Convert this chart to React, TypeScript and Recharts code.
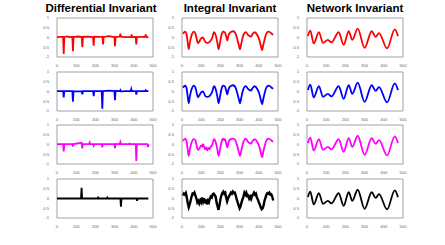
import { LineChart, Line, XAxis, YAxis, ReferenceArea } from 'recharts';

type Pt = [number, number];

const TITLES = ['Differential Invariant', 'Integral Invariant', 'Network Invariant'];
const X_TICKS = [0, 100, 200, 300, 400, 500];
const Y_TICKS = [-1, -0.5, 0, 0.5, 1];
const ROW_COLORS = ['#ff0000', '#0000ff', '#ff00ff', '#000000'];

// differential invariant: flat with spikes
const DIFF_RED: Pt[] = [
  [0, 0.02], [20, 0.03], [32, 0.03], [35, -0.85], [38, 0.03], [55, 0.06], [62, 0.02], [80, 0.03],
  [83, -0.7], [86, 0.02], [110, 0.05], [129, 0.02], [132, -0.5], [135, 0.03], [160, 0.04], [188, 0.02],
  [191, -0.42], [194, 0.04], [215, 0.03], [237, 0.03], [240, -0.35], [243, 0.03], [270, 0.07], [299, 0.02],
  [302, -0.45], [305, 0.02], [327, 0.05], [330, 0.2], [333, 0.04], [360, 0.02], [386, 0.03], [389, 0.15],
  [392, 0.02], [410, 0.03], [413, -0.35], [416, 0.02], [440, 0.03], [459, 0.04], [462, 0.15], [465, 0.03], [476, 0.01],
];
const DIFF_BLUE: Pt[] = [
  [0, 0.02], [32, 0.02], [35, -0.3], [38, 0.02], [80, 0.02], [83, -0.52], [86, 0.02], [129, 0.01],
  [132, -0.15], [135, 0.02], [188, 0.02], [191, -0.24], [194, 0.02], [233, 0.02], [236, -0.88], [239, 0.02],
  [270, 0.04], [299, 0.02], [302, -0.45], [305, 0.03], [327, 0.02], [330, 0.07], [333, 0.01], [360, 0.02],
  [384, 0.02], [387, 0.13], [390, 0.02], [410, 0.02], [413, -0.16], [416, 0.02], [459, 0.02], [462, 0.06],
  [465, 0.02], [476, 0.02],
];
const DIFF_MAG: Pt[] = [
  [0, 0.02], [32, 0.02], [35, -0.35], [38, 0.02], [80, 0.02], [83, -0.1], [86, 0.02], [128, 0.09],
  [132, -0.2], [135, 0.02], [167, 0.02], [170, 0.1], [173, 0.02], [188, 0.02], [191, -0.06], [194, 0.02],
  [233, 0.02], [236, -0.14], [239, 0.02], [299, 0.02], [302, -0.2], [305, 0.03], [327, 0.02], [330, 0.12],
  [333, 0.02], [375, 0.02], [378, 0.05], [381, 0.02], [410, 0.02], [413, -0.85], [416, 0.02], [471, 0.02],
  [474, -0.13], [477, 0.02],
];
const DIFF_BLACK: Pt[] = [
  [0, 0], [125, 0], [128, 0.55], [131, 0], [211, 0], [214, 0.05], [217, 0], [259, 0], [262, 0.05],
  [265, 0], [330, 0], [333, -0.42], [336, 0], [414, 0], [417, -0.12], [420, 0], [476, 0],
];

// integral invariant
const INT_BASE: Pt[] = [
  [5, 0.2], [17, 0.3], [24, 0.15], [29, -0.2], [35, -0.6], [41, -0.25], [48, 0.05], [62, 0.3],
  [70, 0.2], [77, -0.1], [83, -0.3], [90, -0.2], [100, -0.05], [109, 0.0], [121, -0.22], [132, -0.28],
  [144, -0.22], [156, -0.05], [167, 0.27], [176, 0.1], [184, -0.25], [191, -0.6], [198, -0.25], [205, 0.1],
  [213, 0.3], [224, 0.25], [230, 0.05], [236, -0.15], [242, 0.1], [250, 0.25], [266, 0.32], [278, 0.22],
  [287, -0.05], [295, -0.35], [302, -0.6], [309, -0.3], [316, 0.0], [323, 0.2], [332, 0.28], [344, 0.13],
  [358, 0.04], [368, 0.18], [378, 0.27], [392, 0.13], [404, -0.15], [411, -0.45], [417, -0.65], [423, -0.4],
  [430, -0.1], [439, 0.2], [451, 0.3], [465, 0.22], [474, 0.13],
];
const INT_MAG: Pt[] = [
  [5, 0.18], [17, 0.3], [24, 0.15], [29, -0.2], [35, -0.58], [41, -0.25], [48, 0.05], [62, 0.28],
  [70, 0.22], [77, -0.1], [83, -0.28], [90, -0.22], [100, -0.05], [106, -0.12], [109, 0.02], [115, -0.1],
  [121, -0.25], [127, -0.15], [132, -0.3], [138, -0.18], [144, -0.24], [150, -0.1], [156, -0.05], [167, 0.27],
  [176, 0.1], [184, -0.25], [191, -0.58], [198, -0.25], [205, 0.1], [213, 0.3], [219, 0.22], [224, 0.28],
  [230, 0.05], [236, -0.15], [240, -0.02], [242, 0.1], [250, 0.25], [266, 0.3], [278, 0.22], [287, -0.05],
  [295, -0.35], [302, -0.58], [309, -0.3], [316, 0.0], [323, 0.2], [332, 0.3], [344, 0.13], [358, 0.04],
  [368, 0.18], [378, 0.27], [392, 0.13], [404, -0.15], [411, -0.45], [417, -0.65], [423, -0.4], [430, -0.1],
  [439, 0.2], [451, 0.3], [465, 0.22], [474, 0.13],
];
const INT_NOISY: Pt[] = [
  [5, 0.15], [10, 0.25], [15, 0.2], [20, 0.28], [25, 0.05], [30, -0.25], [35, -0.45], [40, -0.3],
  [45, -0.1], [50, 0.1], [55, 0.25], [60, 0.22], [65, 0.3], [70, 0.15], [75, 0.0], [80, -0.2],
  [85, -0.12], [90, -0.25], [95, -0.1], [100, -0.2], [105, 0.05], [110, -0.15], [115, 0.02], [120, -0.25],
  [125, -0.05], [130, -0.3], [135, -0.12], [140, -0.2], [145, 0.0], [150, 0.1], [155, 0.05], [160, 0.22],
  [165, 0.25], [170, 0.18], [175, 0.1], [180, -0.2], [185, -0.4], [190, -0.58], [195, -0.35], [200, -0.05],
  [205, 0.15], [210, 0.28], [215, 0.35], [220, 0.25], [225, 0.3], [230, 0.05], [235, -0.15], [240, 0.0],
  [245, 0.12], [250, 0.2], [255, 0.3], [260, 0.25], [265, 0.35], [270, 0.28], [275, 0.3], [280, 0.15],
  [285, -0.05], [290, -0.2], [295, -0.35], [300, -0.5], [305, -0.4], [310, -0.2], [315, -0.05], [320, 0.1],
  [325, 0.3], [330, 0.2], [335, 0.3], [340, 0.12], [345, 0.15], [350, 0.0], [355, 0.1], [360, -0.02],
  [365, 0.15], [370, 0.2], [375, 0.3], [380, 0.2], [385, 0.25], [390, 0.05], [395, -0.05], [400, -0.2],
  [405, -0.3], [410, -0.45], [415, -0.55], [420, -0.5], [425, -0.35], [430, -0.1], [435, 0.05], [440, 0.2],
  [445, 0.28], [450, 0.25], [455, 0.3], [460, 0.2], [465, 0.22], [470, 0.1], [475, -0.1],
];

// network invariant: smooth
const NET: Pt[] = [
  [5, 0.08], [17, 0.35], [35, -0.3], [62, 0.28], [83, -0.27], [109, -0.12], [127, -0.25], [165, 0.27],
  [191, -0.38], [217, 0.32], [236, -0.12], [264, 0.45], [300, -0.53], [337, 0.32], [358, 0.03], [375, 0.22],
  [417, -0.56], [457, 0.42], [474, 0.07],
];

const GRID: { pts: Pt[]; smooth: boolean }[][] = [
  [{ pts: DIFF_RED, smooth: false }, { pts: INT_BASE, smooth: true }, { pts: NET, smooth: true }],
  [{ pts: DIFF_BLUE, smooth: false }, { pts: INT_BASE, smooth: true }, { pts: NET, smooth: true }],
  [{ pts: DIFF_MAG, smooth: false }, { pts: INT_MAG, smooth: true }, { pts: NET, smooth: true }],
  [{ pts: DIFF_BLACK, smooth: false }, { pts: INT_NOISY, smooth: false }, { pts: NET, smooth: true }],
];

const PLOT_LEFT = [57, 182, 307];
const PLOT_TOP = [18, 72, 125, 179];
const PLOT_W = 96;
const PLOT_H = 39;
const M_TOP = 4;
const M_RIGHT = 9;
const Y_W = 14;
const X_H = 12;
const TITLE_CENTER = [101, 230, 355];
const tickStyle = { fontSize: 4.2, fill: '#666', fontFamily: 'Liberation Sans, Arial, sans-serif' };

function Panel({ pts, smooth, color, width }: { pts: Pt[]; smooth: boolean; color: string; width: number }) {
  const data = pts.map(([x, y]) => ({ x, y }));
  return (
    <LineChart width={Y_W + PLOT_W + M_RIGHT} height={M_TOP + PLOT_H + X_H} data={data}
      margin={{ top: M_TOP, right: M_RIGHT, left: 0, bottom: 0 }}>
      <XAxis dataKey="x" type="number" domain={[0, 500]} ticks={X_TICKS} allowDataOverflow
        height={X_H} tickLine={false} axisLine={false} tickMargin={1} tick={tickStyle} interval={0} />
      <YAxis type="number" domain={[-1, 1]} ticks={Y_TICKS} allowDataOverflow
        width={Y_W} tickLine={false} axisLine={false} tickMargin={2} tick={tickStyle} interval={0} />
      <ReferenceArea x1={0} x2={500} y1={-1} y2={1} fill="none" stroke="#8a8a8a" strokeWidth={0.8} />
      <Line dataKey="y" type={smooth ? 'monotone' : 'linear'} stroke={color} strokeWidth={width}
        dot={false} isAnimationActive={false} />
    </LineChart>
  );
}

export default function App() {
  return (
    <div style={{ position: 'absolute', left: 0, top: 0, width: 445, height: 245, background: '#fff', overflow: 'hidden' }}>
      {TITLES.map((t, i) => (
        <div key={t} style={{
          position: 'absolute', left: TITLE_CENTER[i] - 80, top: 3, width: 160, textAlign: 'center',
          fontFamily: 'Liberation Sans, Arial, sans-serif', fontWeight: 700, fontSize: 11.5, lineHeight: '11.5px', color: '#000',
        }}>{t}</div>
      ))}
      {GRID.map((row, r) => row.map((cell, c) => (
        <div key={`${r}-${c}`} style={{ position: 'absolute', left: PLOT_LEFT[c] - Y_W, top: PLOT_TOP[r] - M_TOP }}>
          <Panel pts={cell.pts} smooth={cell.smooth} color={ROW_COLORS[r]}
            width={r === 3 && c === 1 ? 2.4 : 1.8} />
        </div>
      )))}
    </div>
  );
}
